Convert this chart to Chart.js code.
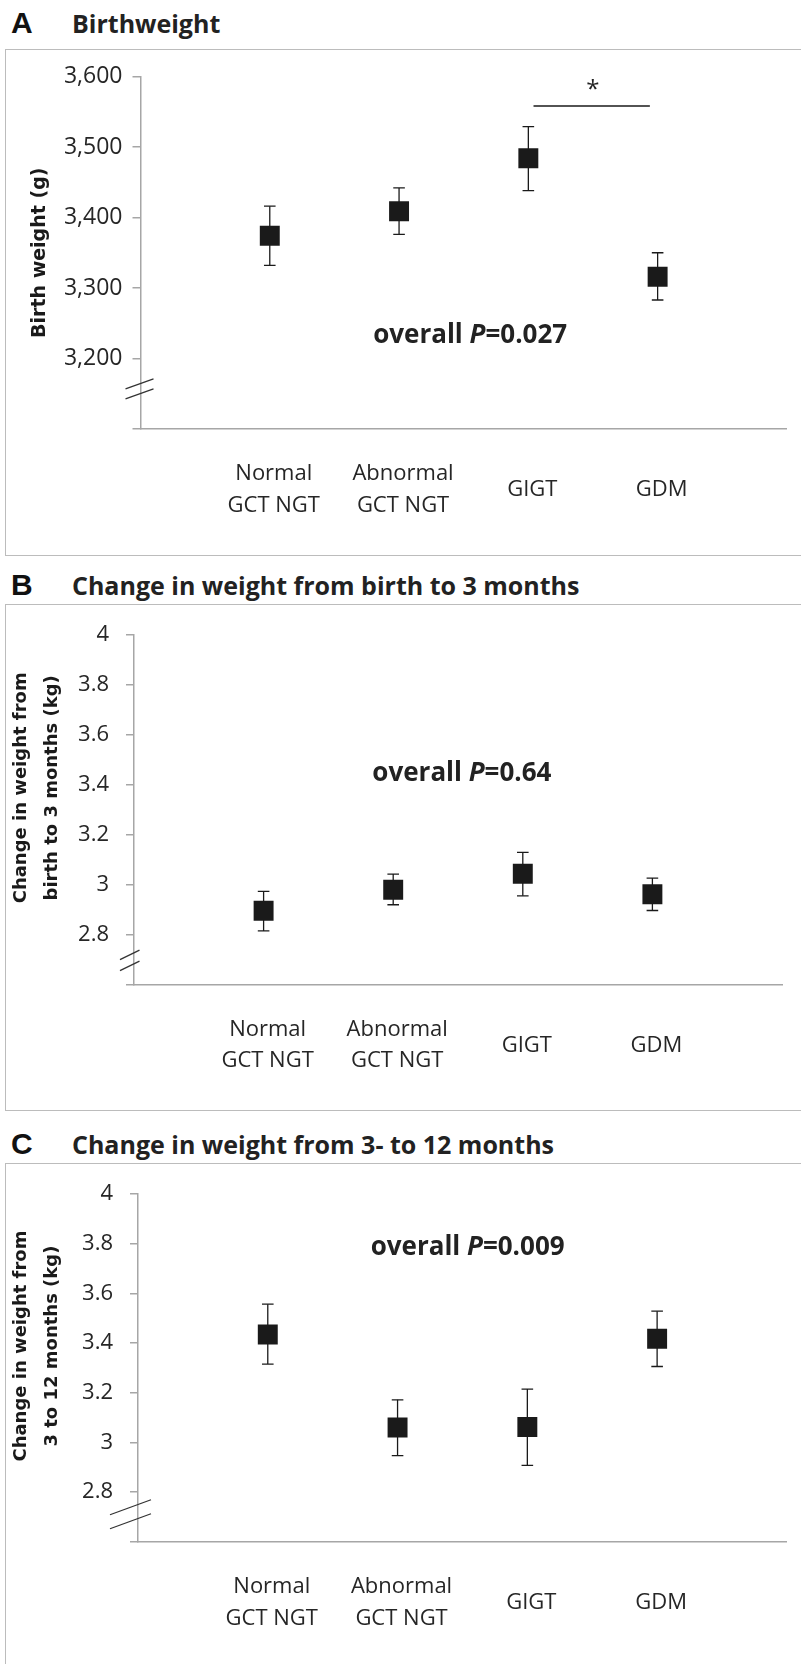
<!DOCTYPE html>
<html>
<head>
<meta charset="utf-8">
<script src="https://cdn.jsdelivr.net/npm/chart.js@4.4.1/dist/chart.umd.min.js"></script>
<style>
  html, body { margin: 0; padding: 0; background: #fff; }
  body { width: 801px; height: 1664px; position: relative; overflow: hidden; }
  .letter { position: absolute; left: 11px; font: bold 30px 'Liberation Sans', Arial, sans-serif; color: #111; line-height: 1; }
  .title { position: absolute; left: 72px; font: bold 25px 'Open Sans', sans-serif; color: #222; line-height: 1; white-space: nowrap; }
  .box { position: absolute; left: 5px; width: 840px; border: 1.5px solid #bcbcbc; border-right: none; }
  canvas { position: absolute; left: 6px; }
</style>
</head>
<body>
<div class="letter" style="top:8px">A</div>
<div class="title" style="top:11px">Birthweight</div>
<div class="box" style="top:49px; height:505px"></div>
<canvas id="chartA" width="795" height="505" style="top:50px"></canvas>

<div class="letter" style="top:570px">B</div>
<div class="title" style="top:573px">Change in weight from birth to 3 months</div>
<div class="box" style="top:604px; height:505px"></div>
<canvas id="chartB" width="795" height="505" style="top:605px"></canvas>

<div class="letter" style="top:1129px">C</div>
<div class="title" style="top:1132px">Change in weight from 3- to 12 months</div>
<div class="box" style="top:1163px; height:520px"></div>
<canvas id="chartC" width="795" height="500" style="top:1164px"></canvas>

<script>
// groups on the x axis (positions 1..4)
const categories = [['Normal', 'GCT NGT'], ['Abnormal', 'GCT NGT'], 'GIGT', 'GDM'];
const groupX = [1, 2, 3, 4];

// A: birth weight (g), mean with error bar ends
const birthMean = [3374, 3409, 3484, 3316];
const birthLow  = [3332, 3376, 3438, 3283];
const birthHigh = [3416, 3442, 3529, 3350];
const birthTickValues = [3100, 3200, 3300, 3400, 3500, 3600];
const birthTickLabels = ['', '3,200', '3,300', '3,400', '3,500', '3,600'];

// B: change in weight birth -> 3 months (kg)
const gain3Mean = [2.895, 2.979, 3.043, 2.961];
const gain3Low  = [2.814, 2.919, 2.955, 2.896];
const gain3High = [2.973, 3.042, 3.129, 3.026];

// C: change in weight 3 -> 12 months (kg)
const gain12Mean = [3.435, 3.060, 3.062, 3.418];
const gain12Low  = [3.316, 2.947, 2.908, 3.306];
const gain12High = [3.557, 3.172, 3.215, 3.529];

const gainTickValues = [2.6, 2.8, 3, 3.2, 3.4, 3.6, 3.8, 4];
const gainTickLabels = ['', '2.8', '3', '3.2', '3.4', '3.6', '3.8', '4'];

const pValues = ['0.027', '0.64', '0.009'];

const axisColor = '#a6a6a6';
const inkColor = '#1a1a1a';
const textColor = '#262626';

function buildChart(id, p) {
    const errorBars = groupX.flatMap((x, i) => [
        { x: x, y: p.low[i] }, { x: x, y: p.high[i] }, { x: x, y: null }
    ]);
    const means = groupX.map((x, i) => ({ x: x, y: p.mean[i] }));

    const datasets = [
        {
            data: means, showLine: false,
            pointStyle: 'rect', pointRadius: 14.1, pointHoverRadius: 14.1,
            pointBackgroundColor: inkColor, pointBorderWidth: 0
        },
        {
            data: errorBars, showLine: true, spanGaps: false,
            borderColor: inkColor, borderWidth: 1.3,
            pointStyle: 'line', pointRadius: 5.8, pointHoverRadius: 5.8,
            pointBorderColor: inkColor, pointBorderWidth: 1.3
        }
    ];
    if (p.sig) {
        datasets.push({
            data: [{ x: p.sig.from, y: p.sig.y }, { x: p.sig.to, y: p.sig.y }],
            showLine: true, borderColor: inkColor, borderWidth: 1.5, pointRadius: 0
        });
    }

    // text notes and the axis break marks
    const notes = {
        id: 'notes',
        afterDraw(chart) {
            const { ctx, scales: { x, y } } = chart;
            ctx.save();

            // overall P
            const parts = [
                ['overall ', 'bold 26px "Open Sans"'],
                ['P', 'italic bold 26px "Open Sans"'],
                ['=' + p.pValue, 'bold 26px "Open Sans"']
            ];
            let total = 0;
            parts.forEach(([t, f]) => { ctx.font = f; total += ctx.measureText(t).width; });
            let tx = x.getPixelForValue(p.pAt[0]) - total / 2;
            const ty = y.getPixelForValue(p.pAt[1]);
            ctx.fillStyle = '#222';
            ctx.textBaseline = 'alphabetic';
            ctx.textAlign = 'left';
            parts.forEach(([t, f]) => {
                ctx.font = f;
                ctx.fillText(t, tx, ty);
                tx += ctx.measureText(t).width;
            });

            // significance star
            if (p.star) {
                ctx.font = '24px "Open Sans"';
                ctx.textAlign = 'center';
                ctx.fillText('*', x.getPixelForValue(p.star[0]), y.getPixelForValue(p.star[1]) + 14);
            }

            // broken axis marks
            const b = p.brk;
            const ax = x.getPixelForValue(0);
            const by = y.getPixelForValue(b.value);
            ctx.strokeStyle = '#333';
            ctx.lineWidth = 1.3;
            [-1, 1].forEach(k => {
                const yc = by + k * b.gap / 2;
                ctx.beginPath();
                ctx.moveTo(ax + b.x0, yc + b.rise / 2);
                ctx.lineTo(ax + b.x1, yc - b.rise / 2);
                ctx.stroke();
            });
            ctx.restore();
        }
    };

    return new Chart(document.getElementById(id), {
        type: 'scatter',
        data: { datasets: datasets },
        options: {
            responsive: false,
            animation: false,
            events: [],
            layout: { padding: { top: p.top, right: p.right, left: 0, bottom: 0 } },
            plugins: { legend: { display: false }, tooltip: { enabled: false } },
            scales: {
                x: {
                    type: 'linear', min: 0, max: 5,
                    afterBuildTicks: s => { s.ticks = groupX.map(v => ({ value: v })); },
                    afterFit: s => { s.height = p.xHeight; },
                    grid: { display: false, drawTicks: false },
                    border: { display: true, color: axisColor, width: 1.5 },
                    ticks: {
                        callback: (v, i) => categories[i],
                        autoSkip: false, maxRotation: 0,
                        crossAlign: 'center', padding: 45, labelOffset: 4,
                        color: textColor,
                        font: { family: 'Open Sans', size: 22, lineHeight: 1.45 }
                    }
                },
                y: {
                    min: p.min, max: p.max,
                    afterBuildTicks: s => { s.ticks = p.tickValues.map(v => ({ value: v })); },
                    afterFit: s => { s.width = p.yWidth; },
                    grid: { drawOnChartArea: false, drawTicks: true, tickLength: 8, color: axisColor, lineWidth: 1.5 },
                    border: { display: true, color: axisColor, width: 1.5 },
                    ticks: {
                        callback: (v, i) => p.tickLabels[i],
                        autoSkip: false, padding: p.tickPad,
                        color: textColor,
                        font: { family: 'Open Sans', size: p.tickSize }
                    },
                    title: {
                        display: true, text: p.yTitle, color: inkColor,
                        padding: { top: p.titlePad, bottom: 0 },
                        font: { family: 'DejaVu Sans', weight: 'bold', size: p.titleSize, lineHeight: 1.7 }
                    }
                }
            }
        },
        plugins: [notes]
    });
}

buildChart('chartA', {
    mean: birthMean, low: birthLow, high: birthHigh,
    min: 3100, max: 3600, tickValues: birthTickValues, tickLabels: birthTickLabels,
    yTitle: 'Birth weight (g)', titleSize: 19, titlePad: 18, tickPad: 10, tickSize: 23,
    top: 26.5, right: 11, yWidth: 134.5, xHeight: 126,
    pValue: pValues[0], pAt: [2.55, 3222],
    sig: { from: 3.04, to: 3.94, y: 3558 }, star: [3.5, 3591],
    brk: { value: 3157, x0: -15, x1: 13, rise: 10, gap: 10 }
});

buildChart('chartB', {
    mean: gain3Mean, low: gain3Low, high: gain3High,
    min: 2.6, max: 4, tickValues: gainTickValues, tickLabels: gainTickLabels,
    yTitle: ['       Change in weight from', '       birth to 3 months (kg)'], titleSize: 18, titlePad: 0, tickPad: 17, tickSize: 22,
    top: 25.7, right: 19, yWidth: 128, xHeight: 125.7,
    pValue: pValues[1], pAt: [2.53, 3.417],
    brk: { value: 2.696, x0: -14, x1: 5.5, rise: 9.5, gap: 11 }
});

buildChart('chartC', {
    mean: gain12Mean, low: gain12Low, high: gain12High,
    min: 2.6, max: 4, tickValues: gainTickValues, tickLabels: gainTickLabels,
    yTitle: ['       Change in weight from', '       3 to 12 months (kg)'], titleSize: 18, titlePad: 0, tickPad: 17, tickSize: 22,
    top: 25.5, right: 13, yWidth: 132, xHeight: 122.2,
    pValue: pValues[2], pAt: [2.54, 3.757],
    brk: { value: 2.711, x0: -28, x1: 13, rise: 15, gap: 14 }
});
</script>
</body>
</html>
